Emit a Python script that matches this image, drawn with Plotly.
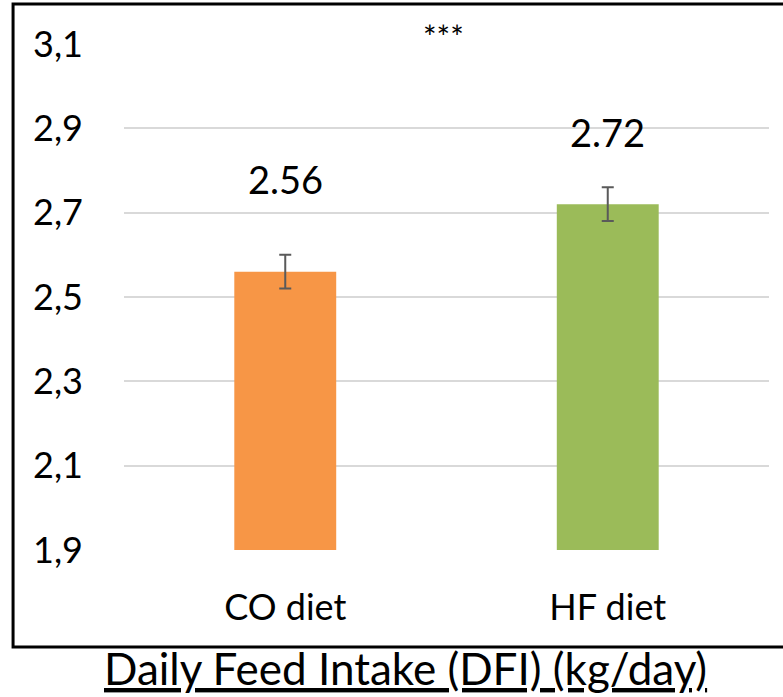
import plotly.graph_objects as go

categories = ["CO diet", "HF diet"]
values = [2.56, 2.72]
errors = [0.04, 0.04]
value_labels = ["2.56", "2.72"]
bar_colors = ["#F79646", "#9BBB59"]
tick_vals = [1.9, 2.1, 2.3, 2.5, 2.7, 2.9, 3.1]
tick_text = ["1,9", "2,1", "2,3", "2,5", "2,7", "2,9", "3,1"]
title_text = "Daily Feed Intake (DFI) (kg/day)"
significance = "***"

FONT = "Lato"

fig = go.Figure()
fig.add_trace(go.Bar(
    x=categories,
    y=values,
    marker=dict(color=bar_colors, line=dict(width=0)),
    width=0.316,
    error_y=dict(type="data", array=errors, visible=True,
                 color="#5a5a5a", thickness=2, width=6),
    hoverinfo="skip",
))

# value labels above bars
label_offsets = [0.22, 0.171]
for c, v, t, off in zip(categories, values, value_labels, label_offsets):
    fig.add_annotation(x=c, y=v + off, text=t, showarrow=False,
                       xref="x", yref="y",
                       font=dict(family=FONT, size=38, color="#000000"))

fig.add_annotation(x=0.495, y=1.058, xref="paper", yref="paper",
                   text=significance, showarrow=False,
                   font=dict(family=FONT, size=32, color="#000000"))

fig.add_annotation(x=0.437, y=-0.233, xref="paper", yref="paper",
                   text="<u>" + title_text + "</u>", showarrow=False,
                   xanchor="center", yanchor="middle",
                   font=dict(family=FONT, size=44, color="#000000"))

fig.add_shape(type="rect", xref="paper", yref="paper",
              x0=-0.172, x1=1.2, y0=-0.1917, y1=1.079,
              line=dict(color="#000000", width=3), layer="above")

fig.update_layout(
    width=783, height=697,
    margin=dict(l=124, r=14, t=44, b=147),
    paper_bgcolor="white", plot_bgcolor="white",
    showlegend=False,
    bargap=0.684,
    font=dict(family=FONT, color="#000000"),
    xaxis=dict(showgrid=False, showline=False, zeroline=False,
               ticks="", tickfont=dict(family=FONT, size=36, color="#000000"),
               ticklabelstandoff=33),
    yaxis=dict(range=[1.9, 3.1], tickvals=tick_vals, ticktext=tick_text,
               showgrid=True, gridcolor="#d9d9d9", gridwidth=2,
               zeroline=False, showline=False, ticks="",
               tickfont=dict(family=FONT, size=36, color="#000000"),
               ticklabelstandoff=40),
)

fig.write_html("out.html")
